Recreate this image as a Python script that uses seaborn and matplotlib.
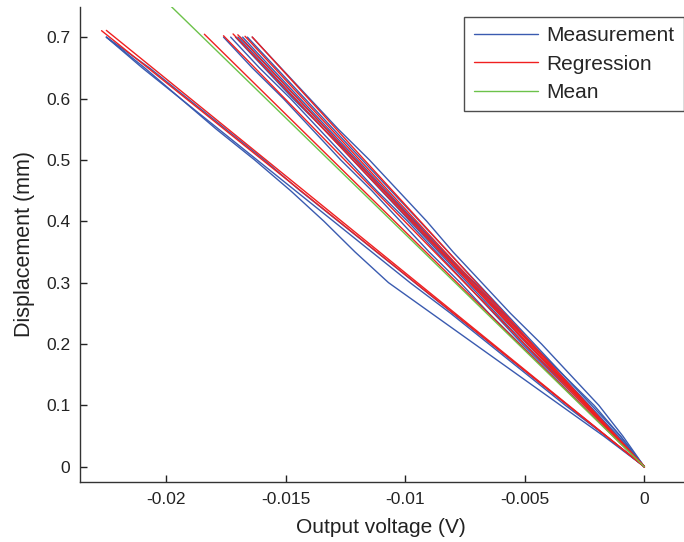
import matplotlib
matplotlib.use("Agg")
import matplotlib.pyplot as plt
from matplotlib.lines import Line2D
import numpy as np
import pandas as pd
import seaborn as sns

# displacement levels (mm) for every measurement run
disp = [0, 0.05, 0.1, 0.15, 0.2, 0.25, 0.3, 0.35, 0.4, 0.45, 0.5, 0.55, 0.6, 0.65, 0.7]

# output voltage (V) of the measurement runs, read at the levels above
run_a1 = [0, -0.0017, -0.0035, -0.0053, -0.0071, -0.0089, -0.0107, -0.0121, -0.0134, -0.0148, -0.0163, -0.0179, -0.0194, -0.0209, -0.0225]
run_a2 = [0, -0.0016, -0.0032, -0.0048, -0.0064, -0.0080, -0.0096, -0.0112, -0.0128, -0.0144, -0.0159, -0.0175, -0.0191, -0.0207, -0.0225]
run_a3 = [0, -0.0016, -0.0033, -0.0049, -0.0065, -0.0081, -0.0098, -0.0114, -0.0130, -0.0146, -0.0162, -0.0178, -0.0194, -0.0210, -0.0225]
run_b1 = [0, -0.0009, -0.0019, -0.0031, -0.0043, -0.0056, -0.0068, -0.0080, -0.0091, -0.0103, -0.0115, -0.0128, -0.0140, -0.0152, -0.0164]
run_b2 = [0, -0.0010, -0.0021, -0.0034, -0.0046, -0.0058, -0.0070, -0.0082, -0.0094, -0.0106, -0.0118, -0.0130, -0.0142, -0.0154, -0.0166]
run_b3 = [0, -0.0011, -0.0023, -0.0035, -0.0047, -0.0059, -0.0071, -0.0084, -0.0096, -0.0108, -0.0120, -0.0132, -0.0144, -0.0156, -0.0168]
run_b4 = [0, -0.0012, -0.0024, -0.0036, -0.0049, -0.0061, -0.0073, -0.0085, -0.0097, -0.0109, -0.0121, -0.0134, -0.0146, -0.0158, -0.0170]
run_b5 = [0, -0.0011, -0.0024, -0.0037, -0.0050, -0.0062, -0.0074, -0.0086, -0.0098, -0.0110, -0.0122, -0.0134, -0.0147, -0.0159, -0.0171]
run_b6 = [0, -0.0012, -0.0025, -0.0038, -0.0051, -0.0063, -0.0075, -0.0087, -0.0099, -0.0112, -0.0124, -0.0136, -0.0148, -0.0161, -0.0173]
run_b7 = [0, -0.0013, -0.0026, -0.0039, -0.0052, -0.0065, -0.0077, -0.0090, -0.0102, -0.0114, -0.0127, -0.0139, -0.0151, -0.0164, -0.0176]
run_b8 = [0, -0.0010, -0.0022, -0.0034, -0.0047, -0.0060, -0.0072, -0.0084, -0.0096, -0.0109, -0.0121, -0.0133, -0.0145, -0.0157, -0.0169]
runs = [run_a1, run_a2, run_a3, run_b1, run_b2, run_b3, run_b4, run_b5, run_b6, run_b7, run_b8]

# regression lines through the origin: slope (mm/V) and voltage range
reg_slope = [-31.6, -31.3, -38.3, -39.9, -41.0, -41.4, -42.0, -42.7]
reg_vmin = [-0.0225, -0.0227, -0.0184, -0.0176, -0.0172, -0.0170, -0.0167, -0.0164]

# mean line
mean_slope = -37.9
mean_vmin = -0.0198

rows = []
for i, r in enumerate(runs):
    for v, d in zip(r, disp):
        rows.append(("Measurement", f"m{i}", v, d))
for i, (k, vmin) in enumerate(zip(reg_slope, reg_vmin)):
    for v in (vmin, 0.0):
        rows.append(("Regression", f"r{i}", v, k * v))
for v in (mean_vmin, 0.0):
    rows.append(("Mean", "mean", v, mean_slope * v))
df = pd.DataFrame(rows, columns=["kind", "curve", "voltage", "disp"])

colors = {"Measurement": "#3a5bb0", "Regression": "#f02020", "Mean": "#6cc24a"}

sns.set_style("ticks")
plt.rcParams["font.family"] = ["Liberation Sans", "DejaVu Sans"]
plt.rcParams["axes.unicode_minus"] = False

fig = plt.figure(figsize=(6.84, 5.42), dpi=100)
ax = fig.add_axes([0.117, 0.111, 0.881, 0.876])

sns.lineplot(data=df, x="voltage", y="disp", hue="kind", units="curve",
             estimator=None, sort=False, palette=colors, linewidth=1.0,
             legend=False, ax=ax)

ax.set_xlim(-0.0236, 0.0016)
ax.set_ylim(-0.0245, 0.749)
xt = [-0.02, -0.015, -0.01, -0.005, 0]
ax.set_xticks(xt)
ax.set_xticklabels(["-0.02", "-0.015", "-0.01", "-0.005", "0"])
yt = [0, 0.1, 0.2, 0.3, 0.4, 0.5, 0.6, 0.7]
ax.set_yticks(yt)
ax.set_yticklabels(["0", "0.1", "0.2", "0.3", "0.4", "0.5", "0.6", "0.7"])
ax.tick_params(direction="in", length=5, width=1, labelsize=12.5, pad=7, colors="#222222")
ax.set_xlabel("Output voltage (V)", fontsize=15, color="#222222", labelpad=8)
ax.set_ylabel("Displacement (mm)", fontsize=15.5, color="#222222", labelpad=8)
sns.despine(ax=ax)
for s in ["left", "bottom"]:
    ax.spines[s].set_color("#333333")
    ax.spines[s].set_linewidth(1)

handles = [Line2D([], [], color=colors[k], lw=1) for k in ["Measurement", "Regression", "Mean"]]
leg = fig.legend(handles, ["Measurement", "Regression", "Mean"], loc="upper right",
                 bbox_to_anchor=(1.0, 0.969), fontsize=15, frameon=True, fancybox=False,
                 edgecolor="#222222", handlelength=3.1, handletextpad=0.4,
                 labelspacing=0.45, borderpad=0.45, borderaxespad=0)
leg.get_frame().set_linewidth(1)

fig.savefig("out.png", dpi=100)
